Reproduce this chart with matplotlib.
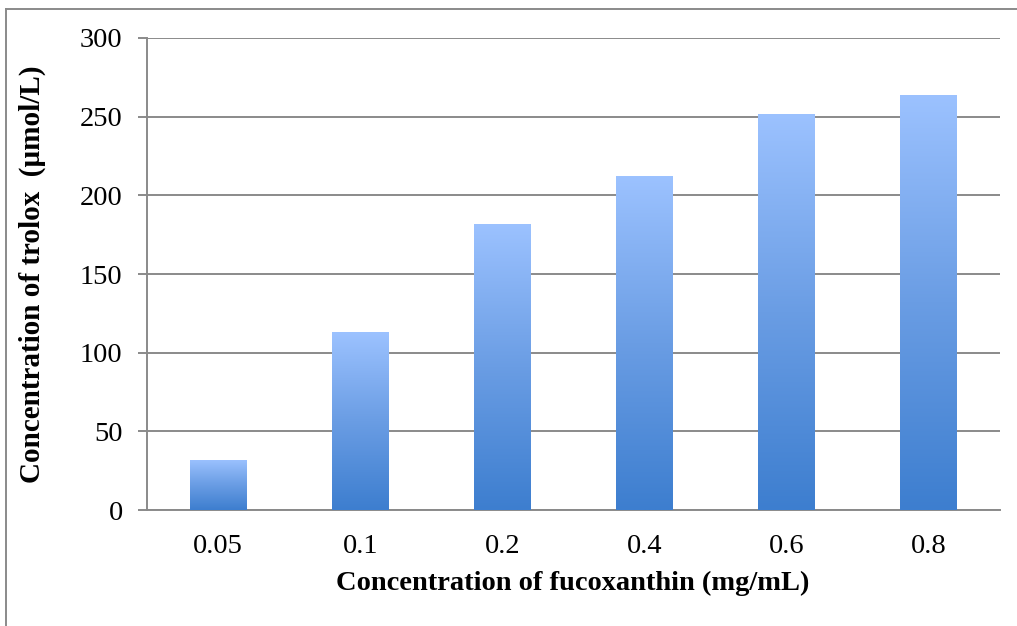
import matplotlib.pyplot as plt
import numpy as np
from matplotlib.colors import LinearSegmentedColormap
from matplotlib.lines import Line2D

categories = ["0.05", "0.1", "0.2", "0.4", "0.6", "0.8"]
trolox = [32, 113, 182, 212, 252, 264]

plt.rcParams["font.family"] = ["Liberation Serif", "DejaVu Serif"]

fig = plt.figure(figsize=(10.17, 6.26), dpi=100)
ax = fig.add_axes([0.1445, 0.1853, 0.8385, 0.754])

grad = LinearSegmentedColormap.from_list("g", ["#3d7ecf", "#6a9de4", "#9cc2ff"])
x = np.arange(len(categories))
bars = ax.bar(x, trolox, width=0.4, color="none", zorder=3)
g = np.linspace(0, 1, 256).reshape(-1, 1)
for b in bars:
    x0, w, h = b.get_x(), b.get_width(), b.get_height()
    im = ax.imshow(g, cmap=grad, origin="lower", aspect="auto",
                   extent=[x0, x0 + w, 0, h], zorder=3)
    im.set_clip_path(b)

ax.set_xlim(-0.5, len(categories) - 0.5)
ax.set_ylim(0, 300)
ax.set_yticks(range(0, 301, 50))
ax.set_xticks(x)
ax.set_xticklabels(categories)
ax.yaxis.grid(True, color="#8a8a8a", lw=1.4, zorder=1)
ax.set_axisbelow(True)

for s in ["top", "right"]:
    ax.spines[s].set_visible(False)
for s in ["left", "bottom"]:
    ax.spines[s].set_color("#8a8a8a")
    ax.spines[s].set_linewidth(1.4)

ax.tick_params(axis="y", length=6.5, width=1.4, color="#8a8a8a", pad=11, labelsize=20.5)
ax.tick_params(axis="x", length=0, pad=17, labelsize=20.5)

fig.text(32 / 1017, 0.5623, "Concentration of trolox  (µmol/L)", rotation=90,
         ha="center", va="center", fontsize=21, fontweight="bold")
fig.text(573 / 1017, 0.0687, "Concentration of fucoxanthin (mg/mL)",
         ha="center", va="center", fontsize=20.5, fontweight="bold")

# outer border of the chart
fig.add_artist(Line2D([6 / 1017, 6 / 1017], [0, 1 - 9 / 626], color="#8a8a8a", lw=1.4))
fig.add_artist(Line2D([6 / 1017, 1], [1 - 9 / 626, 1 - 9 / 626], color="#8a8a8a", lw=1.4))

fig.savefig("out.png", dpi=100)
